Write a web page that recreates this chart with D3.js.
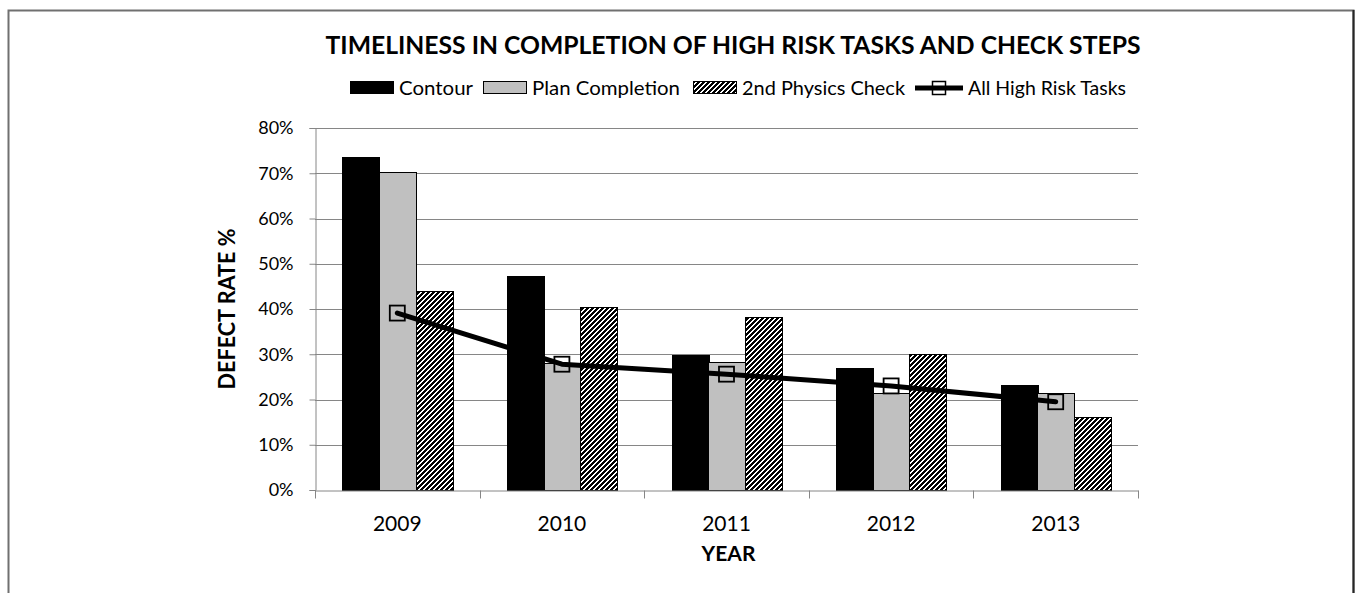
<!DOCTYPE html>
<html>
<head>
<meta charset="utf-8">
<script src="https://cdn.jsdelivr.net/npm/d3@7"></script>
<style>
  html, body { margin: 0; padding: 0; background: #fff; }
  svg { display: block; font-family: Lato, "Open Sans", sans-serif; }
</style>
</head>
<body>
<svg id="chart" width="1356" height="593"></svg>
<script>
// ---- data ----
const years = ["2009", "2010", "2011", "2012", "2013"];
const seriesNames = ["Contour", "Plan Completion", "2nd Physics Check"];
const contour = [73.7, 47.4, 29.8, 26.9, 23.2];
const planCompletion = [70.3, 28.0, 28.2, 21.5, 21.4];
const physicsCheck = [44.0, 40.4, 38.2, 30.1, 16.2];
const allHighRisk = [39.1, 27.8, 25.6, 23.0, 19.5];
const lineName = "All High Risk Tasks";
const yTicks = [0, 10, 20, 30, 40, 50, 60, 70, 80];
const titleText = "TIMELINESS IN COMPLETION OF HIGH RISK TASKS AND CHECK STEPS";
const yTitle = "DEFECT RATE %";
const xTitle = "YEAR";

const barSeries = [contour, planCompletion, physicsCheck];

// ---- layout ----
const W = 1356, H = 593;
const plot = { left: 315, right: 1138, top: 128, bottom: 490 };

const svg = d3.select("#chart");

// crisp pixel upward-diagonal hatch
const defs = svg.append("defs");
const P = 5, BLACK = 3;
const pat = defs.append("pattern")
  .attr("id", "hatch")
  .attr("patternUnits", "userSpaceOnUse")
  .attr("width", P).attr("height", P);
pat.append("rect").attr("width", P).attr("height", P).attr("fill", "#fff");
const cells = [];
for (let r = 0; r < P; r++) {
  for (let k = 0; k < BLACK; k++) {
    cells.push({ r, c: ((P - 1 - r) + k) % P });
  }
}
pat.selectAll("rect.px").data(cells).join("rect")
  .attr("class", "px")
  .attr("x", d => d.c).attr("y", d => d.r)
  .attr("width", 1).attr("height", 1)
  .attr("fill", "#000").attr("shape-rendering", "crispEdges");

const fills = ["#000000", "#c0c0c0", "url(#hatch)"];

// chart border
svg.append("rect")
  .attr("x", 8.5).attr("y", 10.5)
  .attr("width", 1345).attr("height", 620)
  .attr("fill", "none").attr("stroke", "#707070").attr("stroke-width", 2);
svg.append("line")
  .attr("x1", 1353.5).attr("x2", 1353.5).attr("y1", 10).attr("y2", 593)
  .attr("stroke", "#262626").attr("stroke-width", 2);

// scales
const x = d3.scaleBand().domain(years).range([plot.left, plot.right]).padding(0);
const xs = d3.scaleBand().domain(seriesNames).range([0, x.bandwidth()])
  .paddingInner(0).paddingOuter(0.75);
const y = d3.scaleLinear().domain([0, 80]).range([plot.bottom, plot.top]);

// gridlines
svg.append("g").selectAll("line")
  .data(yTicks.filter(t => t > 0))
  .join("line")
  .attr("x1", plot.left).attr("x2", plot.right)
  .attr("y1", d => Math.round(y(d)) + 0.5).attr("y2", d => Math.round(y(d)) + 0.5)
  .attr("stroke", "#868686").attr("stroke-width", 1);

// bars
seriesNames.forEach((name, si) => {
  svg.append("g").selectAll("rect")
    .data(years.map((yr, i) => ({ yr, v: barSeries[si][i] })))
    .join("rect")
    .attr("x", d => Math.round(x(d.yr) + xs(name)) + 0.5)
    .attr("width", Math.round(xs.bandwidth()))
    .attr("y", d => Math.round(y(d.v)) + 0.5)
    .attr("height", d => Math.round(y(0)) - Math.round(y(d.v)))
    .attr("fill", fills[si])
    .attr("stroke", "#000").attr("stroke-width", 1);
});

// y axis
const yAxis = svg.append("g")
  .attr("transform", `translate(${plot.left + 0.5},0)`)
  .call(d3.axisLeft(y).tickValues(yTicks).tickSize(6).tickPadding(16)
    .tickFormat(d => d + "%"));
yAxis.select(".domain").attr("stroke", "#868686");
yAxis.selectAll(".tick line").attr("stroke", "#868686");
yAxis.selectAll("text")
  .attr("font-family", "Lato, sans-serif").attr("font-size", 18)
  .attr("fill", "#000");

// x axis
const xAxis = svg.append("g")
  .attr("transform", `translate(0,${plot.bottom + 0.5})`)
  .call(d3.axisBottom(x).tickSize(0));
xAxis.select(".domain").attr("stroke", "#868686");
xAxis.selectAll("text")
  .attr("y", 40).attr("dy", 0)
  .attr("font-family", "Lato, sans-serif").attr("font-size", 21)
  .attr("fill", "#000");
// category boundary ticks
const bounds = years.map(d => x(d)).concat([x.range()[1]]);
xAxis.append("g").selectAll("line")
  .data(bounds)
  .join("line")
  .attr("x1", d => Math.round(d) + 0.5).attr("x2", d => Math.round(d) + 0.5)
  .attr("y1", 0).attr("y2", 8)
  .attr("stroke", "#868686");

// line series
const cx = d => x(d) + x.bandwidth() / 2;
const linePts = years.map((yr, i) => [cx(yr), y(allHighRisk[i])]);
svg.append("path")
  .attr("d", d3.line()(linePts))
  .attr("fill", "none").attr("stroke", "#000")
  .attr("stroke-width", 5).attr("stroke-linejoin", "round").attr("stroke-linecap", "round");
svg.append("g").selectAll("rect")
  .data(linePts)
  .join("rect")
  .attr("x", d => d[0] - 7.5).attr("y", d => d[1] - 7.5)
  .attr("width", 15).attr("height", 15)
  .attr("fill", "none").attr("stroke", "#000").attr("stroke-width", 1.8);

// title
svg.append("text")
  .attr("x", 733).attr("y", 54)
  .attr("text-anchor", "middle")
  .attr("font-family", "Lato, sans-serif").attr("font-weight", "bold")
  .attr("font-size", 24)
  .attr("textLength", 815).attr("lengthAdjust", "spacingAndGlyphs")
  .attr("fill", "#000")
  .text(titleText);

// axis titles
svg.append("text")
  .attr("transform", `translate(235,${(plot.top + plot.bottom) / 2}) rotate(-90)`)
  .attr("text-anchor", "middle")
  .attr("font-family", "Lato, sans-serif").attr("font-weight", "bold")
  .attr("font-size", 22)
  .attr("textLength", 161).attr("lengthAdjust", "spacingAndGlyphs")
  .attr("fill", "#000")
  .text(yTitle);
svg.append("text")
  .attr("x", (plot.left + plot.right) / 2 + 2).attr("y", 561)
  .attr("text-anchor", "middle")
  .attr("font-family", "Lato, sans-serif").attr("font-weight", "bold")
  .attr("font-size", 21)
  .attr("fill", "#000")
  .text(xTitle);

// legend
const legendItems = [
  { name: seriesNames[0], kind: "bar", fill: fills[0], w: 74 },
  { name: seriesNames[1], kind: "bar", fill: fills[1], w: 148 },
  { name: seriesNames[2], kind: "bar", fill: fills[2], w: 163 },
  { name: lineName, kind: "line", w: 158 }
];
const legend = svg.append("g");
let lx = 350;
const ly = 88;
legendItems.forEach((it, i) => {
  if (it.kind === "bar") {
    legend.append("rect")
      .attr("x", lx + 0.5).attr("y", ly - 6.5)
      .attr("width", 43).attr("height", 12)
      .attr("fill", it.fill).attr("stroke", "#000").attr("stroke-width", 1);
    lx += 44 + 5;
  } else {
    legend.append("line")
      .attr("x1", lx).attr("x2", lx + 48).attr("y1", ly).attr("y2", ly)
      .attr("stroke", "#000").attr("stroke-width", 5);
    legend.append("rect")
      .attr("x", lx + 24 - 6.5).attr("y", ly - 6.5)
      .attr("width", 13).attr("height", 13)
      .attr("fill", "none").attr("stroke", "#000").attr("stroke-width", 1.5);
    lx += 48 + 5;
  }
  legend.append("text")
    .attr("x", lx).attr("y", ly + 7)
    .attr("font-family", "Lato, sans-serif").attr("font-size", 19)
    .attr("textLength", it.w).attr("lengthAdjust", "spacingAndGlyphs")
    .attr("fill", "#000")
    .text(it.name);
  lx += it.w + (i === 1 ? 13 : 10);
});
</script>
</body>
</html>
